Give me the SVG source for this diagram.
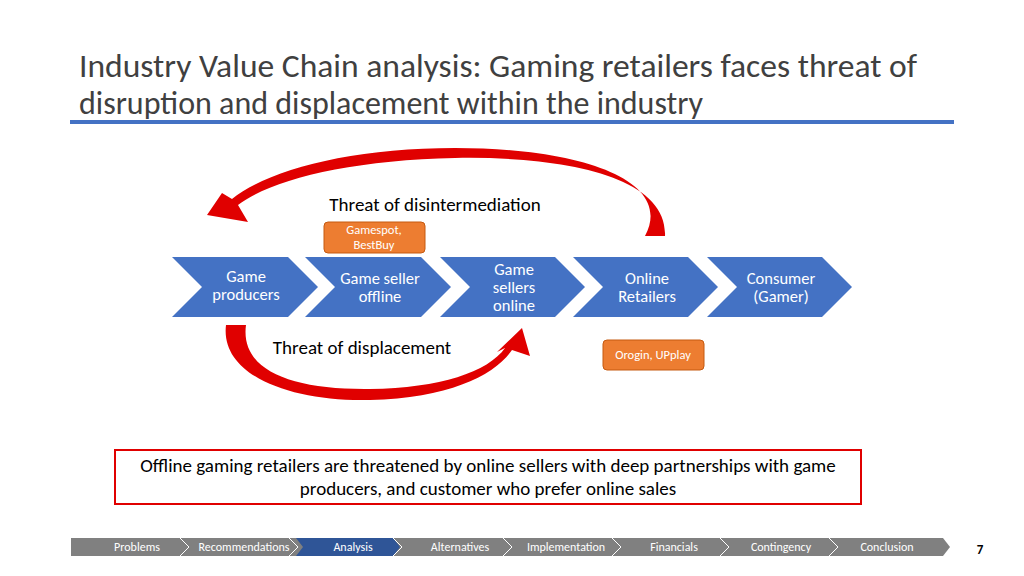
<svg xmlns="http://www.w3.org/2000/svg" width="1024" height="576" viewBox="0 0 1024 576">
<style>
text{font-family:Calibri,"Liberation Sans","Open Sans",sans-serif}
.chev{fill:#4472c4}
.ct{fill:#fff;font-size:16.5px;text-anchor:middle}
.org{fill:#ed7d31;stroke:#c55a11;stroke-width:1}
.ot{fill:#fff;font-size:12.5px;text-anchor:middle}
.nav{fill:#808080}
.nt{fill:#fff;font-size:12px;text-anchor:middle}
.sep{fill:none;stroke:#fff;stroke-width:1}
</style>
<rect width="1024" height="576" fill="#fff"/>
<text x="79" y="77" font-size="32" fill="#404040" textLength="838" lengthAdjust="spacingAndGlyphs">Industry Value Chain analysis: Gaming retailers faces threat of</text>
<text x="79" y="114" font-size="32" fill="#404040">disruption and displacement within the industry</text>
<rect x="70" y="120" width="884" height="4" fill="#4472c4"/>
<g id="connectors">
<path d="M665,236 C668,175 560,156 455,158 C350,160 270,180 238,205 L248,222 L207,215 L222,193 L232,199 C268,170 350,148 455,148 C580,148 675,180 645,236 Z" fill="#e00000"/>
<path d="M226,325 C220,375 290,402 370,400 C450,398 495,375 512,350 L530,356 L522,328 L497,352 L505,348 C488,372 440,388 370,389 C290,390 240,370 246,325 Z" fill="#e00000"/>
</g>
<g id="chain">
<g id="n1"><path class="chev" d="M172,257 L288,257 L318,287 L288,317 L172,317 L202,287 Z"/><text class="ct" x="246" y="282">Game</text><text class="ct" x="246" y="300">producers</text></g>
<g id="n2"><path class="chev" d="M305,257 L421,257 L451,287 L421,317 L305,317 L335,287 Z"/><text class="ct" x="380" y="284">Game seller</text><text class="ct" x="380" y="302">offline</text></g>
<g id="n3"><path class="chev" d="M440,257 L555,257 L585,287 L555,317 L440,317 L470,287 Z"/><text class="ct" x="514" y="275">Game</text><text class="ct" x="514" y="293">sellers</text><text class="ct" x="514" y="311">online</text></g>
<g id="n4"><path class="chev" d="M573,257 L688,257 L718,287 L688,317 L573,317 L603,287 Z"/><text class="ct" x="647" y="284">Online</text><text class="ct" x="647" y="302">Retailers</text></g>
<g id="n5"><path class="chev" d="M707,257 L822,257 L852,287 L822,317 L707,317 L737,287 Z"/><text class="ct" x="781" y="284">Consumer</text><text class="ct" x="781" y="302">(Gamer)</text></g>
</g>
<text x="435" y="211" font-size="19" fill="#000" text-anchor="middle">Threat of disintermediation</text>
<text x="362" y="354" font-size="19" fill="#000" text-anchor="middle">Threat of displacement</text>
<g id="gamespot"><rect class="org" x="324" y="222" width="101" height="31" rx="4"/><text class="ot" x="374" y="234">Gamespot,</text><text class="ot" x="374" y="249">BestBuy</text></g>
<g id="origin"><rect class="org" x="603" y="340" width="101" height="30" rx="4"/><text class="ot" x="653" y="359">Orogin, UPplay</text></g>
<g id="note"><rect x="115" y="450" width="746" height="54" fill="#fff" stroke="#e00000" stroke-width="2"/>
<text x="488" y="472" font-size="19" fill="#000" text-anchor="middle">Offline gaming retailers are threatened by online sellers with deep partnerships with game</text>
<text x="488" y="495" font-size="19" fill="#000" text-anchor="middle">producers, and customer who prefer online sales</text></g>
<g id="nav">
<path class="nav" d="M71,538 L943,538 L950,547 L943,556 L71,556 Z"/>
<path d="M296,538 L393,538 L400,547 L393,556 L296,556 L303,547 Z" fill="#2f5597"/>
<path class="sep" d="M180,538 L189,547 L180,556 M289,538 L298,547 L289,556 M393,538 L402,547 L393,556 M503,538 L512,547 L503,556 M612,538 L621,547 L612,556 M720,538 L729,547 L720,556 M829,538 L838,547 L829,556"/>
<text class="nt" x="137" y="551">Problems</text>
<text class="nt" x="244" y="551">Recommendations</text>
<text class="nt" x="353" y="551">Analysis</text>
<text class="nt" x="460" y="551">Alternatives</text>
<text class="nt" x="566" y="551">Implementation</text>
<text class="nt" x="674" y="551">Financials</text>
<text class="nt" x="781" y="551">Contingency</text>
<text class="nt" x="887" y="551">Conclusion</text>
</g>
<text x="980" y="554" font-size="13" font-weight="bold" fill="#000" text-anchor="middle">7</text>
</svg>
